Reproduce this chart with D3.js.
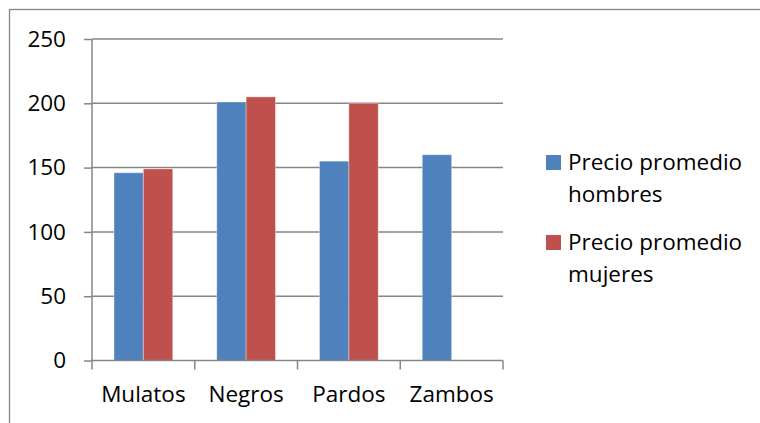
<!DOCTYPE html>
<html><head><meta charset="utf-8">
<script src="https://cdn.jsdelivr.net/npm/d3@7"></script>
<style>
html,body{margin:0;padding:0;background:#fff;}
svg{display:block;}
text{font-family:"Open Sans","Noto Sans",sans-serif;fill:#000;}
</style></head>
<body>
<svg id="c" width="760" height="423"></svg>
<script>
const categories = ["Mulatos","Negros","Pardos","Zambos"];
const seriesNames = ["Precio promedio hombres","Precio promedio mujeres"];
const legendLines = [["Precio promedio","hombres"],["Precio promedio","mujeres"]];
const hombres = [146, 201, 155, 160];
const mujeres = [149, 205, 200, null];
const yTicks = [0, 50, 100, 150, 200, 250];
const colors = ["#4F81BD", "#C0504D"];

const svg = d3.select("#c");
const grid = "#868686";
const fs = 22.5;

// chart border
svg.append("rect").attr("x",9.5).attr("y",9.5).attr("width",800).attr("height",500)
  .attr("fill","none").attr("stroke",grid).attr("stroke-width",1.3);

const L = 92, R = 503, T = 39, B = 360.5;
const x = d3.scaleBand().domain(categories).range([L,R]).paddingInner(1.5/3.5).paddingOuter(0.75/3.5);
const xs = d3.scaleBand().domain([0,1]).range([0, x.bandwidth()]);
const y = d3.scaleLinear().domain([0,250]).range([B,T]);

// gridlines
svg.append("g").selectAll("line").data(yTicks.filter(d=>d>0)).join("line")
  .attr("x1",L).attr("x2",R).attr("y1",d=>y(d)).attr("y2",d=>y(d))
  .attr("stroke",grid).attr("stroke-width",1.5);

// bars
const data = [hombres, mujeres];
data.forEach((vals, si) => {
  svg.append("g").selectAll("rect").data(categories.map((c,i)=>({c, v: vals[i]})).filter(d=>d.v!=null)).join("rect")
    .attr("x", d => x(d.c) + xs(si))
    .attr("y", d => y(d.v))
    .attr("width", xs.bandwidth())
    .attr("height", d => y(0) - y(d.v))
    .attr("fill", colors[si])
    .attr("stroke", "rgba(255,255,255,0.35)")
    .attr("stroke-width", 1);
});

// y axis
const yAxis = svg.append("g").attr("transform",`translate(${L},0)`)
  .call(d3.axisLeft(y).tickValues(yTicks).tickSize(8).tickPadding(18).tickFormat(d3.format("d")));
yAxis.select(".domain").attr("stroke",grid).attr("stroke-width",1.5).attr("d",`M0,${T}V${B}`);
yAxis.selectAll(".tick line").attr("stroke",grid).attr("stroke-width",1.5);
yAxis.selectAll(".tick text").attr("font-size",fs).attr("font-family","\"Open Sans\",sans-serif").attr("fill","#000");

// x axis
const xb = d3.scaleBand().domain(categories).range([L,R]);
const xAxis = svg.append("g").attr("transform",`translate(0,${B})`);
xAxis.append("line").attr("x1",L).attr("x2",R).attr("y1",0).attr("y2",0).attr("stroke",grid).attr("stroke-width",1.5);
const edges = categories.map(c=>xb(c)).concat([R]);
xAxis.selectAll("line.t").data(edges).join("line").attr("class","t")
  .attr("x1",d=>d).attr("x2",d=>d).attr("y1",0).attr("y2",9).attr("stroke",grid).attr("stroke-width",1.5);
xAxis.selectAll("text").data(categories).join("text")
  .attr("x",d=>xb(d)+xb.bandwidth()/2).attr("y",41.5).attr("text-anchor","middle")
  .attr("font-size",fs).text(d=>d);

// legend
const lg = svg.append("g");
legendLines.forEach((lines, i) => {
  const y0 = 155 + i*80;
  lg.append("rect").attr("x",546).attr("y",y0).attr("width",15).attr("height",15).attr("fill",colors[i]);
  lines.forEach((t, j) => {
    lg.append("text").attr("x",568).attr("y",y0 + 14.5 + j*32.5).attr("font-size",fs).text(t);
  });
});
</script>
</body></html>
